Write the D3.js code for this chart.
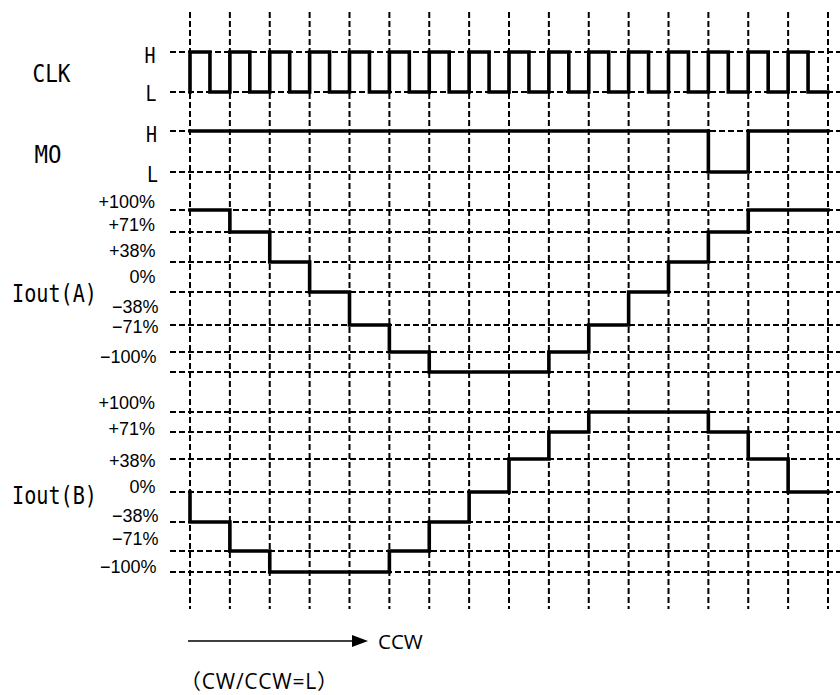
<!DOCTYPE html>
<html>
<head>
<meta charset="utf-8">
<script src="https://cdn.jsdelivr.net/npm/d3@7"></script>
<style>
  html, body { margin: 0; padding: 0; background: #fff; }
  svg { display: block; }
</style>
</head>
<body>
<svg id="chart" width="840" height="695"></svg>
<script>
// ---------------- DATA ----------------
const steps = 16; // clock periods shown
const clkHalfLevels = ["H","L","H","L","H","L","H","L","H","L","H","L","H","L","H","L",
                       "H","L","H","L","H","L","H","L","H","L","H","L","H","L","H","L"];
const clkStart = "L";
const moLevels = ["H","H","H","H","H","H","H","H","H","H","H","H","H","L","H","H"];
const levelValues = [100, 71, 38, 0, -38, -71, -100];
const levelLabels = ["+100%", "+71%", "+38%", "0%", "\u221238%", "\u221271%", "\u2212100%"];
const ioutA = [100, 71, 38, 0, -38, -71, -100, -100, -100, -71, -38, 0, 38, 71, 100, 100];
const ioutBStart = 0;
const ioutB = [-38, -71, -100, -100, -100, -71, -38, 0, 38, 71, 100, 100, 100, 71, 38, 0];
const logicLabels = ["H", "L"];
const signalNames = ["CLK", "MO", "Iout(A)", "Iout(B)"];
const directionLabel = "CCW";
const noteLabel = "\uFF08CW/CCW=L\uFF09";

// ---------------- LAYOUT ----------------
const svg = d3.select("#chart");
svg.append("rect").attr("width", 840).attr("height", 695).attr("fill", "#fff");

const x = d3.scaleLinear().domain([0, steps]).range([190, 828]);
const yClk = d3.scaleOrdinal().domain(logicLabels).range([52, 92]);
const yMo = d3.scaleOrdinal().domain(logicLabels).range([131, 172]);
const yA = d3.scaleLinear().domain(levelValues).range([210, 232, 262, 292, 325, 352, 372]);
const yB = d3.scaleLinear().domain(levelValues).range([412, 432, 459, 492, 522, 551, 572]);

const gridTop = 12, gridBottom = 609, hLeft = 170, hRight = 840;
const dash = "6,3";

const grid = svg.append("g").attr("stroke", "#000").attr("stroke-width", 2)
  .attr("stroke-dasharray", dash).attr("fill", "none");

// vertical grid lines (one per clock edge)
grid.selectAll("line.v").data(d3.range(steps + 1)).join("line")
  .attr("class", "v")
  .attr("x1", d => x(d)).attr("x2", d => x(d))
  .attr("y1", gridTop).attr("y2", gridBottom);

// horizontal grid lines
const hYs = [
  ...logicLabels.map(l => yClk(l)),
  ...logicLabels.map(l => yMo(l)),
  ...levelValues.map(v => yA(v)),
  ...levelValues.map(v => yB(v))
];
grid.selectAll("line.h").data(hYs).join("line")
  .attr("class", "h")
  .attr("x1", hLeft).attr("x2", hRight)
  .attr("y1", d => d).attr("y2", d => d);

// ---------------- WAVEFORMS ----------------
const wave = svg.append("g").attr("fill", "none").attr("stroke", "#000")
  .attr("stroke-width", 3.6).attr("stroke-linejoin", "miter").attr("stroke-linecap", "square");

function stepPath(points, yScale) {
  return d3.line().x(d => x(d.t)).y(d => yScale(d.v)).curve(d3.curveStepAfter)(points);
}

// CLK
const clkPts = [{ t: 0, v: clkStart }]
  .concat(clkHalfLevels.map((v, k) => ({ t: k / 2, v })))
  .concat([{ t: steps, v: clkHalfLevels[clkHalfLevels.length - 1] }]);
wave.append("path").attr("d", stepPath(clkPts, yClk));

// MO
const moPts = moLevels.map((v, i) => ({ t: i, v }))
  .concat([{ t: steps, v: moLevels[moLevels.length - 1] }]);
wave.append("path").attr("d", stepPath(moPts, yMo));

// Iout(A)
const aPts = ioutA.map((v, i) => ({ t: i, v }))
  .concat([{ t: steps, v: ioutA[ioutA.length - 1] }]);
wave.append("path").attr("d", stepPath(aPts, yA));

// Iout(B)
const bPts = [{ t: 0, v: ioutBStart }]
  .concat(ioutB.map((v, i) => ({ t: i, v })))
  .concat([{ t: steps, v: ioutB[ioutB.length - 1] }]);
wave.append("path").attr("d", stepPath(bPts, yB));

// ---------------- TEXT ----------------
const mono = "'DejaVu Sans Mono', 'Liberation Mono', monospace";
const prop = "'Liberation Sans', Arial, sans-serif";

// signal names
const nameLayout = [
  { x: 32.5, y: 81.7, size: 24, len: 38 },
  { x: 34.5, y: 163.3, size: 24, len: 27 },
  { x: 12, y: 301.5, size: 25, len: 85 },
  { x: 12, y: 503.8, size: 25, len: 85 }
];
svg.append("g").selectAll("text").data(signalNames).join("text")
  .attr("x", (d, i) => nameLayout[i].x)
  .attr("y", (d, i) => nameLayout[i].y)
  .attr("font-family", mono)
  .attr("font-size", (d, i) => nameLayout[i].size)
  .attr("textLength", (d, i) => nameLayout[i].len)
  .attr("lengthAdjust", "spacingAndGlyphs")
  .attr("fill", "#000")
  .text(d => d);

// H / L labels
const hlLayout = [
  { scale: yClk, x: 144.5, dy: [10.7, 8.7] },
  { scale: yMo, x: 146, dy: [11, 9.7] }
];
hlLayout.forEach(h => {
  svg.append("g").selectAll("text").data(logicLabels).join("text")
    .attr("x", (d, i) => h.x + (i === 1 ? 1 : 0))
    .attr("y", (d, i) => h.scale(d) + h.dy[i])
    .attr("font-family", mono)
    .attr("font-size", 22)
    .attr("textLength", 11)
    .attr("lengthAdjust", "spacingAndGlyphs")
    .attr("fill", "#000")
    .text(d => d);
});

// percentage labels
const pctRight = [155, 155, 155.5, 155.5, 158.5, 158.5, 156.5];
const pctBaseA = [208, 230.5, 256.7, 282.7, 312.5, 333, 363];
const pctBaseB = [409.3, 435, 466.7, 493.3, 521.7, 545, 572.7];
[pctBaseA, pctBaseB].forEach(base => {
  svg.append("g").selectAll("text").data(levelLabels).join("text")
    .attr("x", (d, i) => pctRight[i])
    .attr("y", (d, i) => base[i])
    .attr("text-anchor", "end")
    .attr("font-family", prop)
    .attr("font-size", 18)
    .attr("fill", "#000")
    .text(d => d);
});

// direction arrow
svg.append("line").attr("x1", 188).attr("x2", 356).attr("y1", 641).attr("y2", 641)
  .attr("stroke", "#000").attr("stroke-width", 1.6);
svg.append("path").attr("d", "M352,635L368,641L352,647Z").attr("fill", "#000");
svg.append("text").attr("x", 378).attr("y", 648.5)
  .attr("font-family", "'Open Sans', 'Noto Sans', sans-serif").attr("font-size", 20.5)
  .attr("fill", "#000").text(directionLabel);
svg.append("text").attr("x", 180).attr("y", 689)
  .attr("font-family", "'Open Sans', 'Noto Sans CJK JP', sans-serif").attr("font-size", 21)
  .attr("textLength", 158)
  .attr("lengthAdjust", "spacing")
  .attr("fill", "#000").text(noteLabel);
</script>
</body>
</html>
